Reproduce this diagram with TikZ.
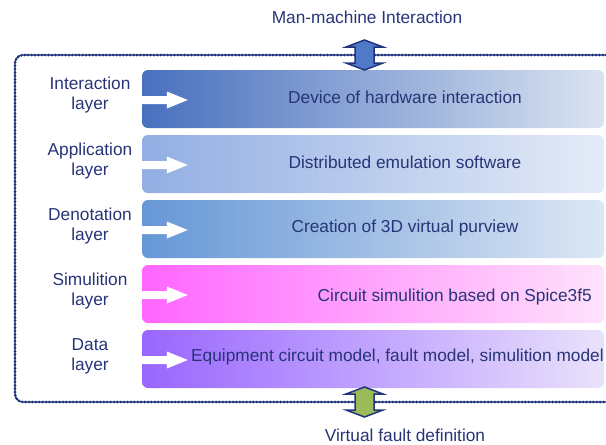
\documentclass[tikz,border=0pt]{standalone}
\usepackage{fontspec}
\setmainfont{Liberation Sans}
\begin{document}
\begin{tikzpicture}[x=1pt,y=-1pt,
  font=\fontsize{17.3}{20}\selectfont]
\definecolor{txt}{RGB}{40,52,120}
\definecolor{navy}{RGB}{34,52,126}
\definecolor{b1l}{RGB}{72,112,190}\definecolor{b1r}{RGB}{218,227,241}
\definecolor{b2l}{RGB}{146,174,227}\definecolor{b2r}{RGB}{229,235,247}
\definecolor{b3l}{RGB}{102,151,214}\definecolor{b3r}{RGB}{221,231,244}
\definecolor{b4l}{RGB}{255,102,255}\definecolor{b4r}{RGB}{255,226,251}
\definecolor{b5l}{RGB}{153,102,255}\definecolor{b5r}{RGB}{233,226,251}
\definecolor{arrblue}{RGB}{79,122,199}
\definecolor{arrgreen}{RGB}{155,187,89}
\tikzset{
  layerbox/.style={rounded corners=6pt, minimum width=462pt, minimum height=58pt, inner sep=0pt},
  lbl/.style={text=txt, align=center, inner sep=0pt},
  boxtxt/.style={text=txt, inner sep=0pt},
  borderline/.style={draw=navy, line width=1.3pt},
  borderdots/.style={draw=navy, line width=3pt, dash pattern=on 0pt off 3.4pt, line cap=round},
  dblarrow/.style={draw=navy, line width=1.5pt, line join=miter},
}
\useasboundingbox (0,0) rectangle (606,445);

% dotted frame
\draw[borderline, rounded corners=8pt] (630,55) -- (15,55) -- (15,402) -- (630,402);
\draw[borderdots, rounded corners=8pt] (630,55) -- (15,55) -- (15,402) -- (630,402);

% layer boxes
\node[layerbox, left color=b1l, right color=b1r] (b1) at (373,99) {};
\node[layerbox, left color=b2l, right color=b2r] (b2) at (373,164) {};
\node[layerbox, left color=b3l, right color=b3r] (b3) at (373,229) {};
\node[layerbox, left color=b4l, right color=b4r] (b4) at (373,294) {};
\node[layerbox, left color=b5l, right color=b5r] (b5) at (373,359) {};

% white arrows
\foreach \b in {b1,b2,b3,b4,b5}{
  \fill[white] ([yshift=-1pt]\b.west) ++(0,-4) -- ++(25,0) -- ++(0,-4.5) -- ++(21,8.5)
    -- ++(-21,8.5) -- ++(0,-4.5) -- ++(-25,0) -- cycle;
}

% box texts
\node[boxtxt] (t1) at (405,97) {Device of hardware interaction};
\node[boxtxt] (t2) at (405,162) {Distributed emulation software};
\node[boxtxt] (t3) at (405,228) {Creation of 3D virtual purview};
\node[boxtxt, anchor=east] (t4) at (592,297) {Circuit simulition based on Spice3f5};
\node[boxtxt, anchor=west] (t5) at (191,357) {Equipment circuit model, fault model, simulition model};

% left labels
\node[lbl] (l1) at (90,95) {Interaction\\layer};
\node[lbl] (l2) at (90,161) {Application\\layer};
\node[lbl] (l3) at (90,226) {Denotation\\layer};
\node[lbl] (l4) at (90,291) {Simulition\\layer};
\node[lbl] (l5) at (90,356) {Data\\layer};

% top / bottom texts
\node[boxtxt] (top) at (367,17) {Man-machine Interaction};
\node[boxtxt] (bot) at (405,435) {Virtual fault definition};

% double arrows
\coordinate (ta) at (364.5,40);
\filldraw[dblarrow, fill=arrblue] (ta) -- ++(18.5,7) -- ++(-9,0) -- ++(0,16) -- ++(9,0)
  -- ++(-18.5,7) -- ++(-18.5,-7) -- ++(9,0) -- ++(0,-16) -- ++(-9,0) -- cycle;
\coordinate (ba) at (364.5,387);
\filldraw[dblarrow, fill=arrgreen] (ba) -- ++(18.5,7) -- ++(-9,0) -- ++(0,16) -- ++(9,0)
  -- ++(-18.5,7) -- ++(-18.5,-7) -- ++(9,0) -- ++(0,-16) -- ++(-9,0) -- cycle;
\end{tikzpicture}
\end{document}
